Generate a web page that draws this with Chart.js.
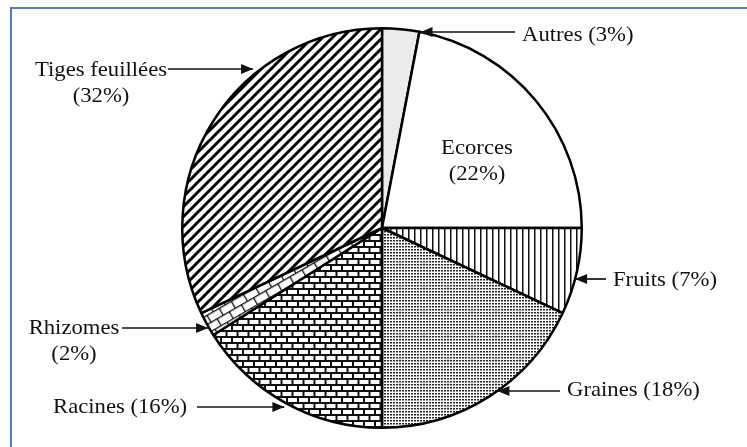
<!DOCTYPE html>
<html>
<head>
<meta charset="utf-8">
<script src="https://cdn.jsdelivr.net/npm/chart.js@4"></script>
<style>
  html, body { margin: 0; padding: 0; background: #fff; }
  #wrap { position: relative; width: 747px; height: 447px; }
  #frame { position: absolute; left: 10px; top: 7px; right: 0; bottom: 0;
           border-top: 2px solid #4f81bd; border-left: 2px solid #4f81bd; pointer-events: none; }
</style>
</head>
<body>
<div id="wrap">
  <canvas id="chart" width="747" height="447"></canvas>
  <div id="frame"></div>
</div>
<script>
// parts of the plant used, share in %
var categories = ['Autres', 'Ecorces', 'Fruits', 'Graines', 'Racines', 'Rhizomes', 'Tiges feuillées'];
var percents = [3, 22, 7, 18, 16, 2, 32];

// hatch fills, one per slice
function tile(w, h, draw) {
    var c = document.createElement('canvas');
    c.width = w; c.height = h;
    var g = c.getContext('2d');
    g.fillStyle = '#fff';
    g.fillRect(0, 0, w, h);
    draw(g, w, h);
    return c;
}

function brick(bw, bh, m) {
    return tile(bw, bh * 2, function (g) {
        g.fillStyle = '#111';
        g.fillRect(0, 0, bw, m);
        g.fillRect(0, bh, bw, m);
        g.fillRect(0, 0, m, bh);
        g.fillRect(bw / 2, bh, m, bh);
    });
}

var ctx0 = document.getElementById('chart').getContext('2d');

var stripes = ctx0.createPattern(tile(10, 10, function (g, s) {
    g.strokeStyle = '#000';
    g.lineWidth = 3;
    g.beginPath();
    g.moveTo(0, s); g.lineTo(s, 0);
    g.moveTo(-2, 2); g.lineTo(2, -2);
    g.moveTo(s - 2, s + 2); g.lineTo(s + 2, s - 2);
    g.stroke();
}), 'repeat');

var vlines = ctx0.createPattern(tile(6, 6, function (g) {
    g.fillStyle = '#111';
    g.fillRect(0, 0, 1.5, 6);
}), 'repeat');

var dots = ctx0.createPattern(tile(3, 3, function (g) {
    g.fillStyle = '#222';
    g.fillRect(0, 0, 2, 1.5);
}), 'repeat');

var bricks = ctx0.createPattern(brick(11, 6, 2), 'repeat');

var bigBricks = ctx0.createPattern(brick(14, 8, 1.3), 'repeat');
bigBricks.setTransform(new DOMMatrix().rotate(-30));

var fills = ['#ebebeb', '#ffffff', vlines, dots, bricks, bigBricks, stripes];

// label text placement; arrows run horizontally to the pie edge
var labelFont = '21px "Liberation Serif", "Times New Roman", serif';
var labels = [
    { lines: ['Autres (3%)'], x: 522, y: 41, align: 'left', arrow: { y: 32, from: 515, side: 'right', gap: 0 } },
    { lines: ['Ecorces', '(22%)'], x: 477, y: 154, align: 'center' },
    { lines: ['Fruits (7%)'], x: 613, y: 286, align: 'left', arrow: { y: 279, from: 606, side: 'right', gap: 0 } },
    { lines: ['Graines (18%)'], x: 567, y: 396, align: 'left', arrow: { y: 391, from: 560, side: 'right', gap: 0 } },
    { lines: ['Racines (16%)'], x: 53, y: 413, align: 'left', arrow: { y: 407, from: 197, side: 'left', gap: 9 } },
    { lines: ['Rhizomes', '(2%)'], x: 74, y: 334, align: 'center', arrow: { y: 328, from: 122, side: 'left', gap: 1 } },
    { lines: ['Tiges feuillées', '(32%)'], x: 101, y: 76, align: 'center', arrow: { y: 69, from: 168, side: 'left', gap: 8 } }
];

var calloutPlugin = {
    id: 'callouts',
    afterDraw: function (chart) {
        var ctx = chart.ctx;
        var arc = chart.getDatasetMeta(0).data[0];
        var cx = arc.x, cy = arc.y, r = arc.outerRadius;
        ctx.save();
        ctx.font = labelFont;
        ctx.fillStyle = '#111';
        ctx.strokeStyle = '#111';
        ctx.textBaseline = 'alphabetic';
        labels.forEach(function (lb) {
            lb.lines.forEach(function (t, i) {
                var w = ctx.measureText(t).width * 1.08;
                var x0 = lb.align === 'center' ? lb.x - w / 2 : lb.x;
                ctx.save();
                ctx.translate(x0, lb.y + i * 26);
                ctx.scale(1.08, 1);
                ctx.textAlign = 'left';
                ctx.fillText(t, 0, 0);
                ctx.restore();
            });
            if (!lb.arrow) return;
            var a = lb.arrow;
            var dy = a.y - cy;
            var dx = Math.sqrt(Math.max(r * r - dy * dy, 0));
            var dir = a.side === 'right' ? 1 : -1;
            var tipX = cx + dir * (dx + a.gap);
            ctx.lineWidth = 1.7;
            ctx.beginPath();
            ctx.moveTo(a.from, a.y);
            ctx.lineTo(tipX, a.y);
            ctx.stroke();
            var back = a.from > tipX ? 1 : -1;
            ctx.beginPath();
            ctx.moveTo(tipX, a.y);
            ctx.lineTo(tipX + back * 12, a.y - 5);
            ctx.lineTo(tipX + back * 12, a.y + 5);
            ctx.closePath();
            ctx.fill();
        });
        ctx.restore();
    }
};

new Chart(document.getElementById('chart'), {
    type: 'pie',
    data: {
        labels: categories,
        datasets: [{
            data: percents,
            backgroundColor: fills,
            borderColor: '#000',
            borderWidth: 2.5
        }]
    },
    options: {
        responsive: false,
        animation: false,
        events: [],
        layout: { padding: { left: 17, right: 0, top: 27, bottom: 18 } },
        plugins: {
            legend: { display: false },
            tooltip: { enabled: false }
        }
    },
    plugins: [calloutPlugin]
});
</script>
</body>
</html>
